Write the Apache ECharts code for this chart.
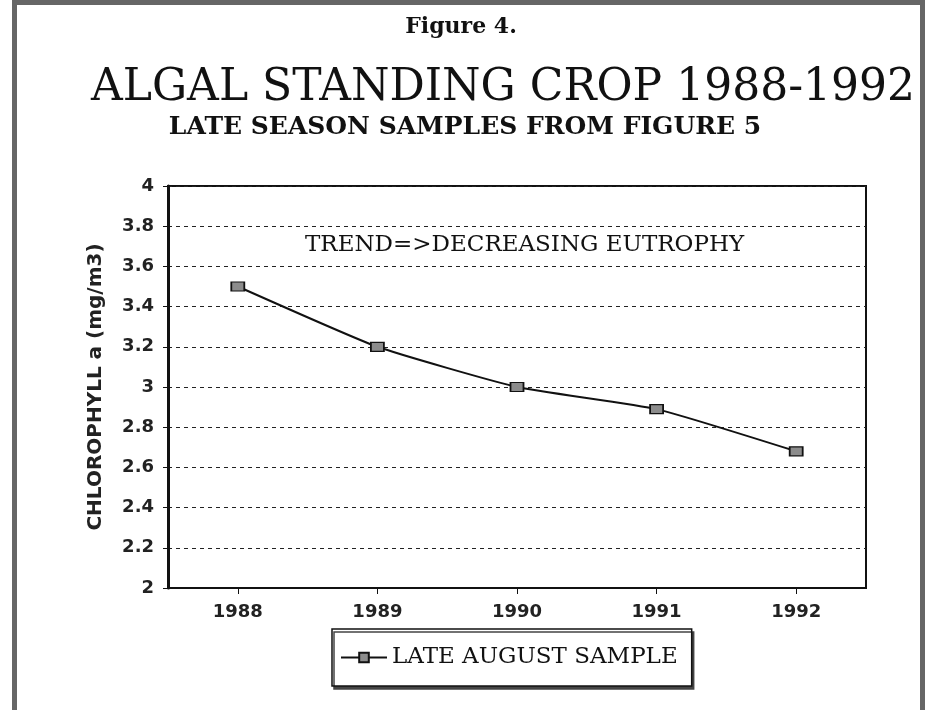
<!DOCTYPE html>
<html>
<head>
<meta charset="utf-8">
<script src="https://cdn.jsdelivr.net/npm/echarts@6/dist/echarts.min.js"></script>
<style>
html,body{margin:0;padding:0;background:#fff;}
#chart{width:931px;height:710px;}
</style>
</head>
<body>
<div id="chart"></div>
<script>
var years = ['1988', '1989', '1990', '1991', '1992'];
var lateAugust = [3.5, 3.2, 3.0, 2.89, 2.68];
var seriesName = 'LATE AUGUST SAMPLE';
var figureLabel = 'Figure 4.';
var mainTitle = 'ALGAL STANDING CROP 1988-1992';
var subTitle = 'LATE SEASON SAMPLES FROM FIGURE 5';
var annotation = 'TREND=>DECREASING EUTROPHY';
var yAxisName = 'CHLOROPHYLL a (mg/m3)';
var yMin = 2, yMax = 4, yStep = 0.2;

var serif = '"DejaVu Serif", "Liberation Serif", serif';
var sans = '"DejaVu Sans", "Liberation Sans", sans-serif';

var chart = echarts.init(document.getElementById('chart'), null, {renderer: 'canvas'});
chart.setOption({
  backgroundColor: '#ffffff',
  animation: false,
  title: [
    {text: figureLabel, left: 456, top: 11, textAlign: 'center',
     textStyle: {fontFamily: serif, fontSize: 22, fontWeight: 'bold', color: '#111'}},
    {text: mainTitle, left: 498, top: 62, textAlign: 'center',
     textStyle: {fontFamily: serif, fontSize: 44, fontWeight: 'normal', color: '#111'}},
    {text: subTitle, left: 460, top: 110, textAlign: 'center',
     textStyle: {fontFamily: serif, fontSize: 25, fontWeight: 'bold', color: '#111'}}
  ],
  legend: {
    data: [seriesName],
    left: 332, top: 629,
    padding: [17, 14, 17, 8],
    itemWidth: 46, itemHeight: 12, itemGap: 6,
    backgroundColor: '#fff',
    borderColor: '#111', borderWidth: 1.5,
    shadowColor: '#444', shadowOffsetX: 2, shadowOffsetY: 3, shadowBlur: 0,
    textStyle: {fontFamily: serif, fontSize: 23, color: '#111'}
  },
  grid: {
    left: 168, top: 186, right: 65, bottom: 122,
    show: true, borderColor: '#111', borderWidth: 2, backgroundColor: '#fff'
  },
  xAxis: {
    type: 'category', data: years, boundaryGap: true,
    axisLine: {lineStyle: {color: '#111', width: 2}},
    axisTick: {show: true, alignWithLabel: true, length: 6, lineStyle: {color: '#111', width: 1}},
    axisLabel: {fontFamily: sans, fontWeight: 'bold', fontSize: 18, color: '#222', margin: 15},
    splitLine: {show: false}
  },
  yAxis: {
    type: 'value', min: yMin, max: yMax, interval: yStep,
    name: yAxisName, nameLocation: 'middle', nameGap: 62, nameRotate: 90,
    nameTextStyle: {fontFamily: sans, fontWeight: 'bold', fontSize: 20, color: '#222'},
    axisLine: {show: true, lineStyle: {color: '#111', width: 3}},
    axisTick: {show: true, length: 5, lineStyle: {color: '#111', width: 1}},
    axisLabel: {fontFamily: sans, fontWeight: 'bold', fontSize: 18, color: '#222', margin: 14},
    splitLine: {show: true, lineStyle: {color: '#222', width: 1, type: [4, 4]}}
  },
  graphic: [
    {type: 'rect', shape: {x: 14.5, y: 2.5, width: 908, height: 730},
     style: {fill: 'none', stroke: '#666', lineWidth: 5}, silent: true, z: 100},
    {type: 'text', x: 305, y: 245,
     style: {text: annotation, font: 'normal 23px ' + serif, fill: '#111', textVerticalAlign: 'middle', textAlign: 'left'}, z: 50}
  ],
  series: [{
    name: seriesName, type: 'line', data: lateAugust,
    smooth: 0.15,
    symbol: 'rect', symbolSize: [13, 9], showSymbol: true,
    lineStyle: {color: '#111', width: 2},
    itemStyle: {color: '#8c8c8c', borderColor: '#111', borderWidth: 1.5}
  }]
});
</script>
</body>
</html>
